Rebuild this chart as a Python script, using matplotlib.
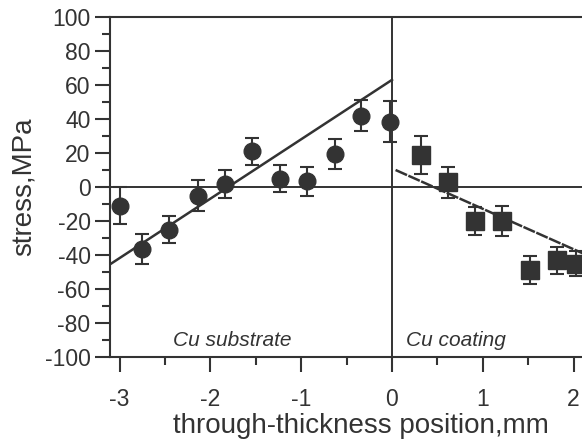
import numpy as np
import matplotlib.pyplot as plt
from matplotlib.ticker import MultipleLocator

# substrate measurements (circles)
sub_x = [-3.0, -2.75, -2.45, -2.14, -1.84, -1.54, -1.23, -0.93, -0.63, -0.34, -0.02]
sub_y = [-11, -36.5, -25, -5, 1.8, 21, 4.8, 3.5, 19.5, 42, 38.5]
sub_err = [11, 9, 8, 9, 8, 8, 8, 8.5, 9, 9, 12]

# coating measurements (squares)
coat_x = [0.32, 0.62, 0.92, 1.21, 1.52, 1.82, 2.03]
coat_y = [18.8, 2.8, -20, -20, -48.8, -43, -45]
coat_err = [11, 9, 8, 9, 8.5, 8, 7.5]

# linear fits
fit_sub_x = [-3.105, 0.0]
fit_sub_y = [-45.5, 63.0]
fit_coat_x = [0.04, 2.1]
fit_coat_y = [10.0, -39.0]

c = '#333333'
plt.rcParams['font.family'] = ['Liberation Sans', 'DejaVu Sans']
plt.rcParams['axes.unicode_minus'] = False

fig = plt.figure(figsize=(5.82, 4.45), dpi=100)
ax = fig.add_axes([110 / 582, 88 / 445, 1 - 110 / 582, 340 / 445])

ax.axhline(0, color=c, lw=1.4, zorder=1)
ax.axvline(0, color=c, lw=1.4, zorder=1)

ax.plot(fit_sub_x, fit_sub_y, color=c, lw=1.8, zorder=2)
ax.plot(fit_coat_x, fit_coat_y, color=c, lw=1.8, ls=(0, (5, 0.6)), zorder=2)

ax.errorbar(sub_x, sub_y, yerr=sub_err, fmt='o', color=c, ms=12,
            capsize=5, elinewidth=1.5, capthick=1.5, zorder=3)
ax.errorbar(coat_x, coat_y, yerr=coat_err, fmt='s', color=c, ms=12.5,
            capsize=5, elinewidth=1.5, capthick=1.5, zorder=3)

ax.text(-2.41, -90, 'Cu substrate', style='italic', fontsize=15, color=c,
        ha='left', va='center')
ax.text(0.16, -90, 'Cu coating', style='italic', fontsize=15, color=c,
        ha='left', va='center')

ax.set_xlim(-3.105, 2.093)
ax.set_ylim(-100, 100)
ax.xaxis.set_major_locator(MultipleLocator(1))
ax.xaxis.set_minor_locator(MultipleLocator(0.5))
ax.yaxis.set_major_locator(MultipleLocator(20))
ax.yaxis.set_minor_locator(MultipleLocator(10))

ax.spines['right'].set_visible(False)
for s in ['left', 'bottom', 'top']:
    ax.spines[s].set_color(c)
    ax.spines[s].set_linewidth(1.5)

ax.tick_params(which='major', direction='out', length=11, width=1.5, color=c,
               labelsize=16.5, labelcolor=c, pad=3)
ax.tick_params(which='minor', direction='out', length=6, width=1.5, color=c)
ax.tick_params(axis='x', which='major', pad=11)
ax.tick_params(top=False, which='both')

ax.set_xlabel('through-thickness position,mm', fontsize=20, color=c)
ax.set_ylabel('stress,MPa', fontsize=20, color=c)
ax.xaxis.set_label_coords(0.531, -0.165)
ax.yaxis.set_label_coords(-0.155, 0.5)

fig.savefig('out.png', dpi=100)
